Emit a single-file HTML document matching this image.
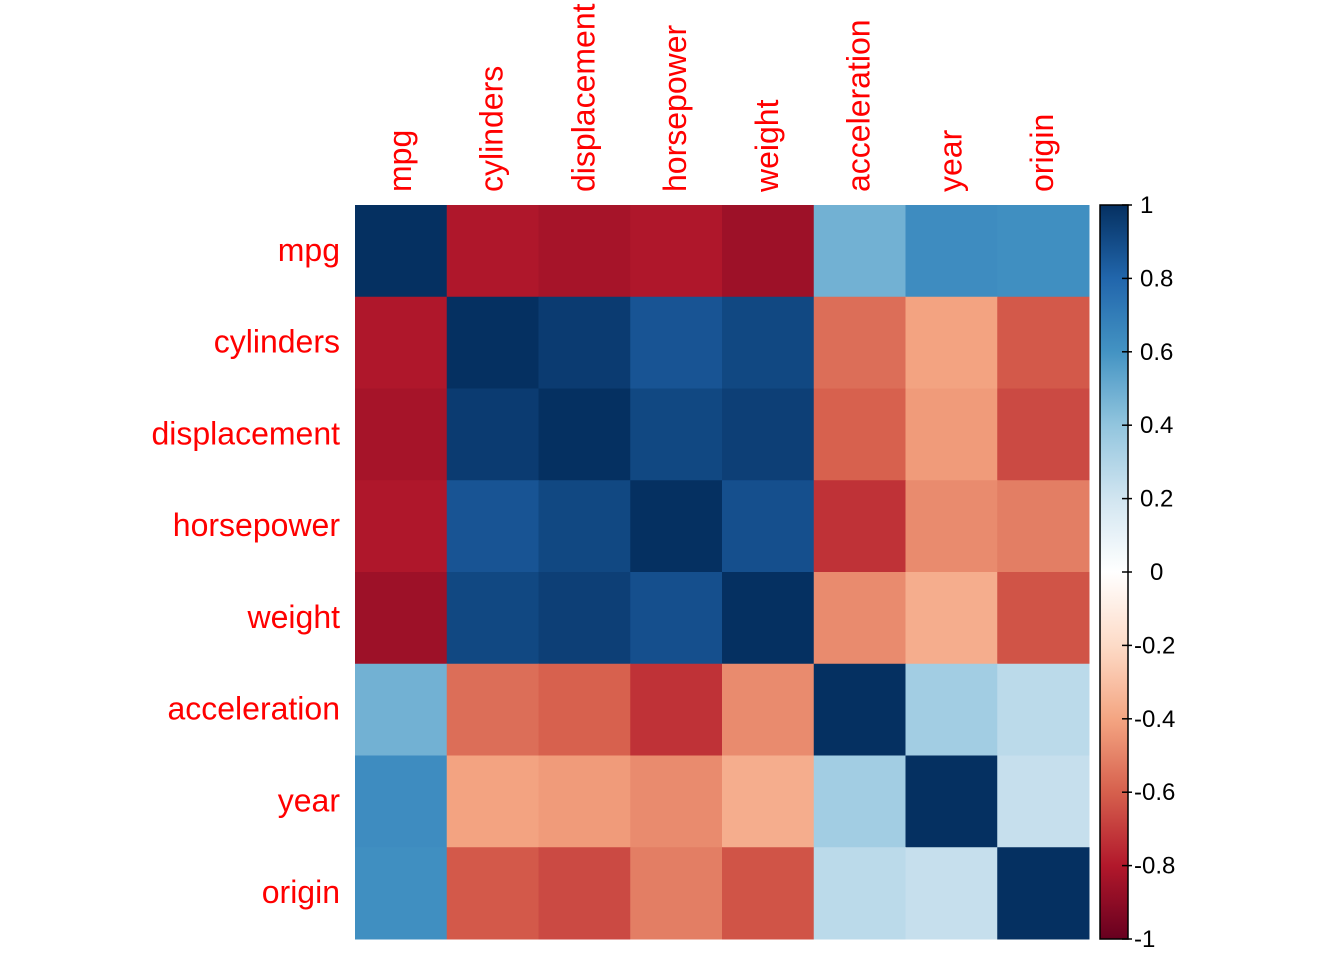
<!DOCTYPE html>
<html><head><meta charset="utf-8"><style>
html,body{margin:0;padding:0;background:#fff;}
svg{display:block;font-family:"Liberation Sans",Arial,sans-serif;}
</style></head><body>
<svg id="chart" width="1344" height="960"></svg>
<script>
const vars=["mpg","cylinders","displacement","horsepower","weight","acceleration","year","origin"];
const row0=[1,-0.7776,-0.8051,-0.7784,-0.8322,0.4233,0.5805,0.5652];
const row1=[-0.7776,1,0.9508,0.8430,0.8975,-0.5047,-0.3456,-0.5689];
const row2=[-0.8051,0.9508,1,0.8973,0.9330,-0.5438,-0.3699,-0.6145];
const row3=[-0.7784,0.8430,0.8973,1,0.8645,-0.6892,-0.4164,-0.4552];
const row4=[-0.8322,0.8975,0.9330,0.8645,1,-0.4168,-0.3091,-0.5850];
const row5=[0.4233,-0.5047,-0.5438,-0.6892,-0.4168,1,0.2903,0.2127];
const row6=[0.5805,-0.3456,-0.3699,-0.4164,-0.3091,0.2903,1,0.1815];
const row7=[0.5652,-0.5689,-0.6145,-0.4552,-0.5850,0.2127,0.1815,1];
const matrix=[row0,row1,row2,row3,row4,row5,row6,row7];
const legendTicks=[1,0.8,0.6,0.4,0.2,0,-0.2,-0.4,-0.6,-0.8,-1];
const legendLabels=["1","0.8","0.6","0.4","0.2","0","-0.2","-0.4","-0.6","-0.8","-1"];

const stops=["#67001F","#B2182B","#D6604D","#F4A582","#FDDBC7","#FFFFFF","#D1E5F0","#92C5DE","#4393C3","#2166AC","#053061"];
function hex(h){return [parseInt(h.slice(1,3),16),parseInt(h.slice(3,5),16),parseInt(h.slice(5,7),16)];}
function color(v){
  let t=(v+1)/2*(stops.length-1);let i=Math.max(0,Math.min(Math.floor(t),stops.length-2));let f=t-i;
  const a=hex(stops[i]),b=hex(stops[i+1]);
  return "rgb("+a.map((c,k)=>Math.round(c+(b[k]-c)*f)).join(",")+")";
}
function cellColor(v){return color(Math.sign(v)*Math.pow(Math.abs(v),0.85));}
const NS="http://www.w3.org/2000/svg";
const svg=document.getElementById("chart");
function mk(tag,attrs,parent){const e=document.createElementNS(NS,tag);for(const k in attrs)e.setAttribute(k,attrs[k]);(parent||svg).appendChild(e);return e;}
const x0=355,y0=205,size=734,n=vars.length,cs=size/n;
const xPos=j=>x0+j*cs, yPos=i=>y0+i*cs;
const cells=mk("g",{});


matrix.forEach((row,i)=>row.forEach((v,j)=>{
  const r=mk("rect",{x:xPos(j),y:yPos(i),width:cs+0.5,height:cs+0.5,fill:cellColor(v)},cells);
  
  
}));
vars.forEach((name,i)=>{
  const t=mk("text",{x:340,y:yPos(i)+cs/2+10,"text-anchor":"end","font-size":"32",fill:"#FF0000"});
  t.textContent=name;
  
  
  const cx=xPos(i)+cs/2+10;
  const c=mk("text",{x:0,y:0,transform:"translate("+cx+",192) rotate(-90)","text-anchor":"start","font-size":"32",fill:"#FF0000"});
  c.textContent=name;
  
  
});
const lx=1100,lw=28,ly0=205,lh=734;
const defs=mk("defs",{});
const grad=mk("linearGradient",{id:"g",x1:"0",y1:"1",x2:"0",y2:"0"},defs);
for(let k=0;k<=40;k++){const v=-1+k/20;mk("stop",{offset:(k/40),"stop-color":color(v)},grad);}
const bar=mk("rect",{x:lx,y:ly0,width:lw,height:lh,fill:"url(#g)",stroke:"#000","stroke-width":1.5});


const ly=v=>ly0+(1-v)/2*lh;
legendTicks.forEach((v,k)=>{
  const y=ly(v);
  const tk=mk("line",{x1:lx+lw-6,x2:lx+lw+4,y1:y,y2:y,stroke:"#000","stroke-width":1.5});
  
  
  const t=mk("text",{x:v>0?1140:(v===0?1150:1134),y:y+8,"font-size":"24",fill:"#000"});
  t.textContent=legendLabels[k];
  
  
});
</script>
</body></html>
